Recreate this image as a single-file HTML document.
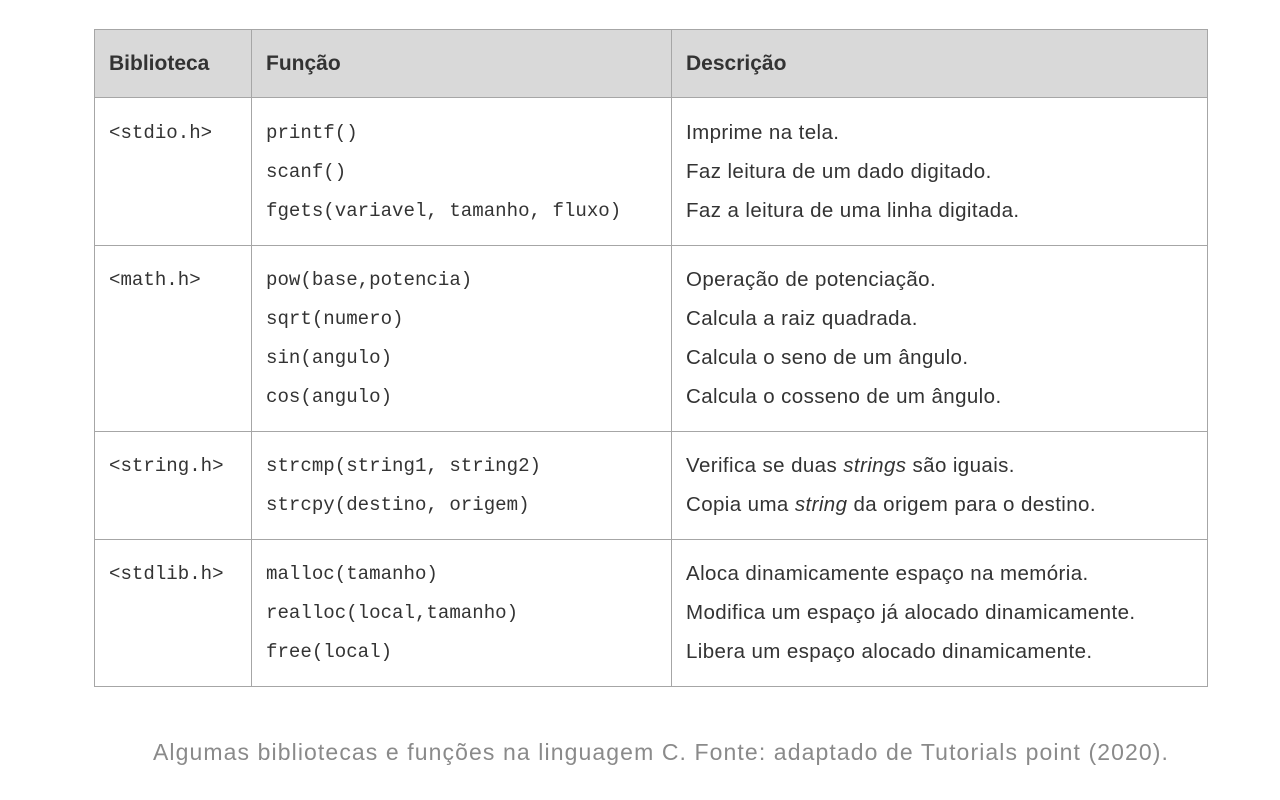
<!DOCTYPE html>
<html><head><meta charset="utf-8"><style>
body{margin:0;width:1280px;height:800px;background:#fff;position:relative;overflow:hidden;font-family:"Liberation Sans",sans-serif;color:#333}
.b{position:absolute;background:#a6a6a6}
.t{position:absolute;white-space:nowrap;font-size:20.5px;line-height:24px;letter-spacing:0.4px}
.m{font-family:"Liberation Mono",monospace;font-size:19.1px;letter-spacing:0}
.h{font-weight:bold;font-size:21px;letter-spacing:0}
</style></head><body>
<div style="position:absolute;left:94px;top:29px;width:1113px;height:68px;background:#d9d9d9"></div>
<div class="b" style="left:94px;top:29px;width:1114px;height:1px"></div>
<div class="b" style="left:94px;top:97px;width:1114px;height:1px"></div>
<div class="b" style="left:94px;top:245px;width:1114px;height:1px"></div>
<div class="b" style="left:94px;top:431px;width:1114px;height:1px"></div>
<div class="b" style="left:94px;top:539px;width:1114px;height:1px"></div>
<div class="b" style="left:94px;top:686px;width:1114px;height:1px"></div>
<div class="b" style="left:94px;top:29px;width:1px;height:658px"></div>
<div class="b" style="left:251px;top:29px;width:1px;height:658px"></div>
<div class="b" style="left:671px;top:29px;width:1px;height:658px"></div>
<div class="b" style="left:1207px;top:29px;width:1px;height:658px"></div>

<div class="t h" style="left:109px;top:52px">Biblioteca</div>
<div class="t h" style="left:266px;top:52px">Função</div>
<div class="t h" style="left:686px;top:52px">Descrição</div>

<div class="t m" style="left:109px;top:121px">&lt;stdio.h&gt;</div>
<div class="t m" style="left:266px;top:121px">printf()</div>
<div class="t m" style="left:266px;top:160px">scanf()</div>
<div class="t m" style="left:266px;top:199px">fgets(variavel, tamanho, fluxo)</div>
<div class="t" style="left:686px;top:121px">Imprime na tela.</div>
<div class="t" style="left:686px;top:160px">Faz leitura de um dado digitado.</div>
<div class="t" style="left:686px;top:199px">Faz a leitura de uma linha digitada.</div>

<div class="t m" style="left:109px;top:268px">&lt;math.h&gt;</div>
<div class="t m" style="left:266px;top:268px">pow(base,potencia)</div>
<div class="t m" style="left:266px;top:307px">sqrt(numero)</div>
<div class="t m" style="left:266px;top:346px">sin(angulo)</div>
<div class="t m" style="left:266px;top:385px">cos(angulo)</div>
<div class="t" style="left:686px;top:268px">Operação de potenciação.</div>
<div class="t" style="left:686px;top:307px">Calcula a raiz quadrada.</div>
<div class="t" style="left:686px;top:346px">Calcula o seno de um ângulo.</div>
<div class="t" style="left:686px;top:385px">Calcula o cosseno de um ângulo.</div>

<div class="t m" style="left:109px;top:454px">&lt;string.h&gt;</div>
<div class="t m" style="left:266px;top:454px">strcmp(string1, string2)</div>
<div class="t m" style="left:266px;top:493px">strcpy(destino, origem)</div>
<div class="t" style="left:686px;top:454px">Verifica se duas <i>strings</i> são iguais.</div>
<div class="t" style="left:686px;top:493px">Copia uma <i>string</i> da origem para o destino.</div>

<div class="t m" style="left:109px;top:562px">&lt;stdlib.h&gt;</div>
<div class="t m" style="left:266px;top:562px">malloc(tamanho)</div>
<div class="t m" style="left:266px;top:601px">realloc(local,tamanho)</div>
<div class="t m" style="left:266px;top:640px">free(local)</div>
<div class="t" style="left:686px;top:562px">Aloca dinamicamente espaço na memória.</div>
<div class="t" style="left:686px;top:601px">Modifica um espaço já alocado dinamicamente.</div>
<div class="t" style="left:686px;top:640px">Libera um espaço alocado dinamicamente.</div>

<div class="t" style="left:0;width:1322px;text-align:center;top:739px;font-size:23px;line-height:26px;letter-spacing:1.1px;color:#8a8a8a">Algumas bibliotecas e funções na linguagem C. Fonte: adaptado de Tutorials point (2020).</div>
</body></html>
